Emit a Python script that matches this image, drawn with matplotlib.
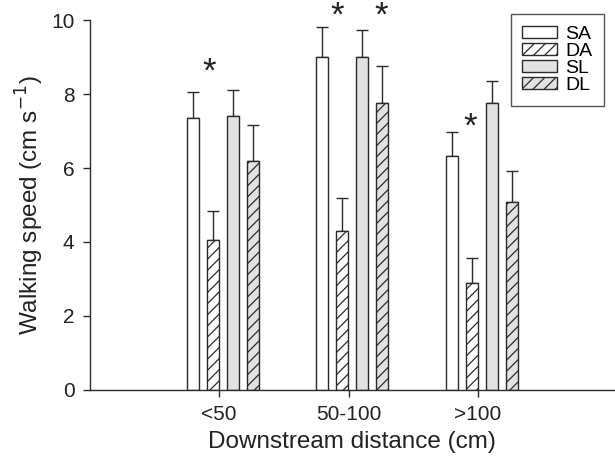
import numpy as np
import matplotlib
matplotlib.use("Agg")
import matplotlib.pyplot as plt

plt.rcParams['font.family'] = ['Liberation Sans', 'DejaVu Sans']
plt.rcParams['hatch.linewidth'] = 0.9

# data
groups = ["<50", "50-100", ">100"]
series = ["SA", "DA", "SL", "DL"]
means = {
    "SA": [7.35, 9.0, 6.32],
    "DA": [4.05, 4.3, 2.88],
    "SL": [7.4, 9.0, 7.75],
    "DL": [6.2, 7.75, 5.08],
}
errs = {
    "SA": [0.7, 0.8, 0.65],
    "DA": [0.8, 0.9, 0.7],
    "SL": [0.7, 0.72, 0.6],
    "DL": [0.95, 1.0, 0.84],
}
# asterisk positions (x in group units, height)
stars_x = [0.92, 1.915, 2.25, 2.94]
stars_y = [8.6, 10.1, 10.1, 7.1]

fills = {"SA": "white", "DA": "white", "SL": "#e2e2e4", "DL": "#e2e2e4"}
hatches = {"SA": None, "DA": "///", "SL": None, "DL": "///"}
edge = "#2a2a2a"

fig = plt.figure(figsize=(6.15, 4.67), dpi=100)
ax = fig.add_axes([0.146, 0.165, 0.854, 0.792])

x = np.arange(1, len(groups) + 1)
pitch = 0.155
width = 0.093
shift = 0.03
for i, s in enumerate(series):
    pos = x + shift + (i - 1.5) * pitch
    ax.bar(pos, means[s], width, color=fills[s], edgecolor=edge,
           hatch=hatches[s], linewidth=1.0, label=s, zorder=2)
    ax.errorbar(pos, means[s], yerr=[np.zeros(3), errs[s]], fmt="none",
                ecolor=edge, elinewidth=1.0, capsize=4, capthick=1.0, zorder=1)

for sx, sy in zip(stars_x, stars_y):
    ax.text(sx, sy, "*", ha="center", va="center", fontsize=25,
            color="#222222", clip_on=False)

ax.set_xlim(0, 4.06)
ax.set_ylim(0, 10)
ax.set_xticks(x)
ax.set_xticklabels(groups)
ax.set_yticks([0, 2, 4, 6, 8, 10])
for sp in ["top", "right"]:
    ax.spines[sp].set_visible(False)
for sp in ["left", "bottom"]:
    ax.spines[sp].set_color(edge)
    ax.spines[sp].set_linewidth(1.0)
ax.tick_params(direction="out", length=5, width=1.0, colors=edge,
               labelsize=15, labelcolor="#222222", pad=6)

ax.set_xlabel("Downstream distance (cm)", fontsize=17.5, color="#222222", labelpad=5)
ax.set_ylabel("Walking speed (cm s$^{-1}$)", fontsize=17.5, color="#222222", labelpad=4)

leg = fig.legend(loc="upper right", bbox_to_anchor=(0.998, 0.99), fontsize=14,
                 frameon=True, fancybox=False, edgecolor=edge,
                 handlelength=1.8, handleheight=0.6, labelspacing=0.0,
                 borderpad=0.6, handletextpad=0.4)
leg.get_frame().set_linewidth(1.0)

fig.savefig("out.png", dpi=100)
